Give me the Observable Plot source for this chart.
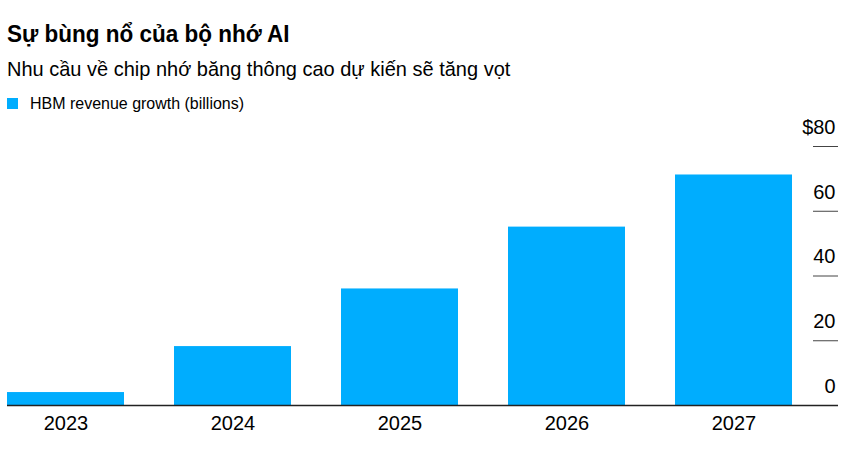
<!DOCTYPE html>
<html>
<head>
<meta charset="utf-8">
<script src="https://cdn.jsdelivr.net/npm/d3@7"></script>
<script src="https://cdn.jsdelivr.net/npm/@observablehq/plot@0.6"></script>
<style>
  html, body { margin: 0; padding: 0; background: #fff; }
  body { width: 853px; height: 453px; position: relative; overflow: hidden; font-family: "Liberation Sans", Arial, sans-serif; color: #000; }
  .title { position: absolute; left: 7px; top: 22px; font-size: 24.5px; line-height: 24px; font-weight: bold; white-space: nowrap; transform: scaleX(0.918); transform-origin: left center; }
  .subtitle { position: absolute; left: 7px; top: 58px; font-size: 21px; line-height: 21px; white-space: nowrap; transform: scaleX(0.952); transform-origin: left center; }
  .legend { position: absolute; left: 7px; top: 95px; font-size: 17px; line-height: 17px; white-space: nowrap; display: flex; align-items: center; }
  .legend .sw { width: 11px; height: 11px; background: #00adfe; margin-right: 12px; display: inline-block; flex: none; }
  .legend .lt { display: inline-block; transform: scaleX(0.94); transform-origin: left center; }
  #chart { position: absolute; left: 0; top: 112px; }
</style>
</head>
<body>
<div class="title">Sự bùng nổ của bộ nhớ AI</div>
<div class="subtitle">Nhu cầu về chip nhớ băng thông cao dự kiến sẽ tăng vọt</div>
<div class="legend"><span class="sw"></span><span class="lt">HBM revenue growth (billions)</span></div>
<div id="chart"></div>
<script>
const years = ["2023", "2024", "2025", "2026", "2027"];
const revenue = [4.0, 18.2, 36.0, 55.1, 71.2];
const yTicks = [0, 20, 40, 60, 80];
const yTickLabels = ["0", "20", "40", "60", "$80"];
const seriesName = "HBM revenue growth (billions)";

const data = years.map((y, i) => ({year: y, value: revenue[i]}));
const tickData = yTicks.map((v, i) => ({v, label: yTickLabels[i]}));

const chart = Plot.plot({
  width: 853,
  height: 341,
  marginLeft: 7,
  marginRight: 61,
  marginTop: 34,
  marginBottom: 48,
  style: {fontFamily: "Liberation Sans, Arial, sans-serif", background: "transparent"},
  x: {type: "band", domain: years, paddingInner: 0.3, paddingOuter: 0, axis: null},
  y: {domain: [0, 80], axis: null},
  marks: [
    Plot.barY(data, {x: "year", y: "value", fill: "#00adfe"}),
    Plot.ruleY(tickData.filter(d => d.v !== 0), {y: "v", insetLeft: 806, insetRight: -46, stroke: "#444", strokeWidth: 1}),
    Plot.ruleY([0], {insetRight: -46, stroke: "#222", strokeWidth: 1.3}),
    Plot.text(tickData, {y: "v", text: "label", frameAnchor: "right", dx: 43, dy: -19, textAnchor: "end", lineAnchor: "middle", fontSize: 20, fill: "#000"}),
    Plot.text(years, {x: d => d, text: d => d, frameAnchor: "bottom", dy: 18, lineAnchor: "middle", fontSize: 20, fill: "#000"})
  ]
});
document.getElementById("chart").appendChild(chart);
</script>
</body>
</html>
